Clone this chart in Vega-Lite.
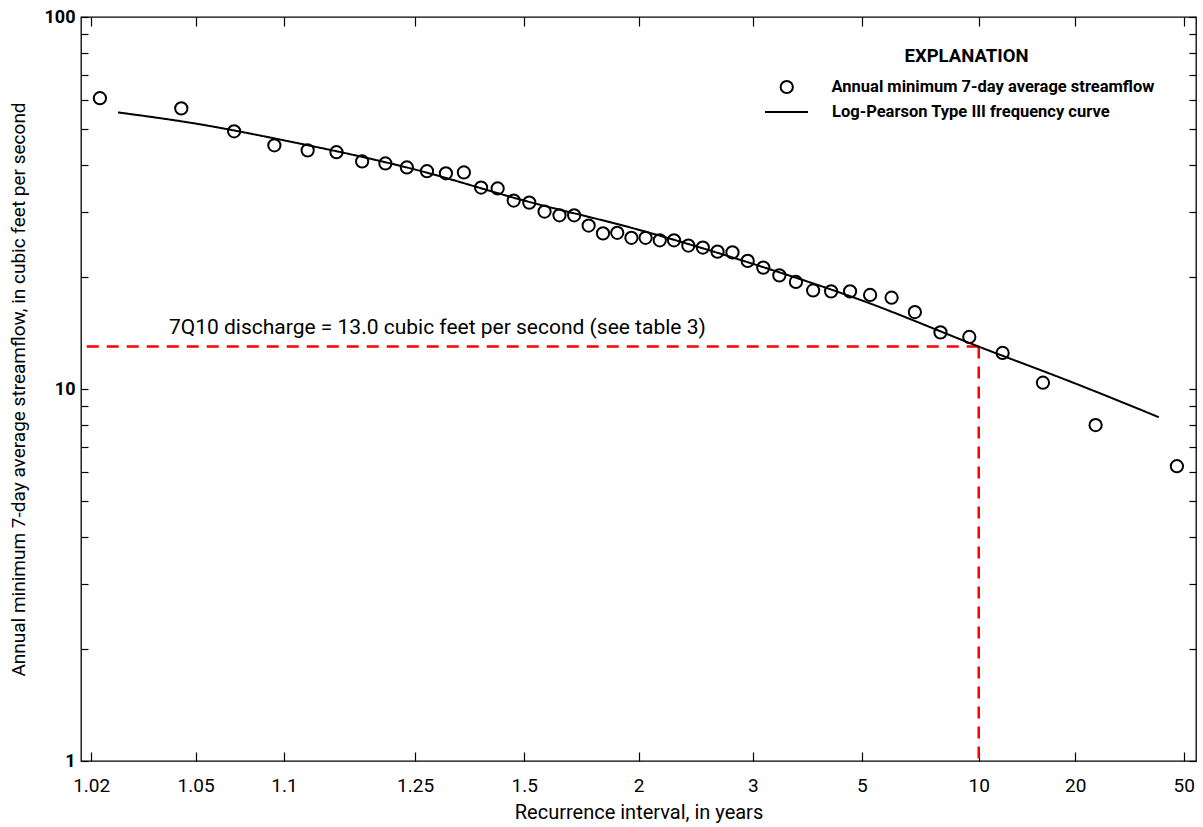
{
  "$schema": "https://vega.github.io/schema/vega-lite/v6.json",
  "width": 1115,
  "height": 744,
  "autosize": {"type": "none"},
  "padding": {"left": 81, "top": 17, "right": 7, "bottom": 66},
  "background": "white",
  "config": {
    "font": "Roboto",
    "view": {"stroke": "black", "strokeWidth": 1.3},
    "axis": {"labelColor": "black", "titleColor": "black", "tickColor": "black", "grid": false, "domain": false, "titleFontWeight": "normal", "tickWidth": 1.2}
  },
  "datasets": {
    "obs": [
      {"T": 1.0217, "Q": 60.5}, {"T": 1.0444, "Q": 56.8}, {"T": 1.0682, "Q": 49.3}, {"T": 1.0930, "Q": 45.2},
      {"T": 1.1190, "Q": 43.8}, {"T": 1.1463, "Q": 43.3}, {"T": 1.1750, "Q": 40.9}, {"T": 1.2051, "Q": 40.4},
      {"T": 1.2368, "Q": 39.4}, {"T": 1.2703, "Q": 38.5}, {"T": 1.3056, "Q": 38.0}, {"T": 1.3429, "Q": 38.2},
      {"T": 1.3824, "Q": 34.8}, {"T": 1.4242, "Q": 34.6}, {"T": 1.4688, "Q": 32.1}, {"T": 1.5161, "Q": 31.7},
      {"T": 1.5667, "Q": 30.0}, {"T": 1.6207, "Q": 29.3}, {"T": 1.6786, "Q": 29.3}, {"T": 1.7407, "Q": 27.5},
      {"T": 1.8077, "Q": 26.2}, {"T": 1.8800, "Q": 26.3}, {"T": 1.9583, "Q": 25.5}, {"T": 2.0435, "Q": 25.5},
      {"T": 2.1364, "Q": 25.1}, {"T": 2.2381, "Q": 25.1}, {"T": 2.3500, "Q": 24.3}, {"T": 2.4737, "Q": 24.0},
      {"T": 2.6111, "Q": 23.4}, {"T": 2.7647, "Q": 23.3}, {"T": 2.9375, "Q": 22.1}, {"T": 3.1333, "Q": 21.2},
      {"T": 3.3571, "Q": 20.2}, {"T": 3.6154, "Q": 19.4}, {"T": 3.9167, "Q": 18.4}, {"T": 4.2727, "Q": 18.3},
      {"T": 4.7000, "Q": 18.3}, {"T": 5.2222, "Q": 17.9}, {"T": 5.8750, "Q": 17.6}, {"T": 6.7143, "Q": 16.1},
      {"T": 7.8333, "Q": 14.2}, {"T": 9.4000, "Q": 13.8}, {"T": 11.750, "Q": 12.5}, {"T": 15.667, "Q": 10.4},
      {"T": 23.500, "Q": 8.0}, {"T": 47.000, "Q": 6.2}
    ],
    "lp3": [
      {"T": 1.0256, "Q": 55.4}, {"T": 1.05, "Q": 51.7}, {"T": 1.1, "Q": 46.6}, {"T": 1.25, "Q": 38.9},
      {"T": 1.5, "Q": 32.1}, {"T": 2, "Q": 26.8}, {"T": 3, "Q": 21.7}, {"T": 5, "Q": 17.3},
      {"T": 10, "Q": 13.0}, {"T": 20, "Q": 10.35}, {"T": 40, "Q": 8.4}
    ],
    "q710": [
      {"T": 10, "Q": 13.0, "note": "7Q10 discharge = 13.0 cubic feet per second (see table 3)", "noteT": 1.04}
    ]
  },
  "layer": [
    {
      "data": {"name": "q710"},
      "transform": [{"calculate": "quantileNormal(1 - 1/datum.T)", "as": "z"}],
      "mark": {"type": "rule", "color": "#ff0000", "strokeWidth": 2.5, "strokeDash": [12, 8]},
      "encoding": {
        "x": {"field": "z", "type": "quantitative", "scale": {"domain": [-2.1, 2.1], "nice": false, "zero": false}, "axis": null},
        "x2": {"value": 0},
        "y": {"field": "Q", "type": "quantitative", "scale": {"type": "log", "domain": [1, 100], "nice": false}, "axis": null}
      }
    },
    {
      "data": {"name": "q710"},
      "transform": [{"calculate": "quantileNormal(1 - 1/datum.T)", "as": "z"}],
      "mark": {"type": "rule", "color": "#ff0000", "strokeWidth": 2.5, "strokeDash": [12, 8]},
      "encoding": {
        "x": {"field": "z", "type": "quantitative", "scale": {"domain": [-2.1, 2.1], "nice": false, "zero": false}, "axis": null},
        "y": {"field": "Q", "type": "quantitative", "scale": {"type": "log", "domain": [1, 100], "nice": false}, "axis": null},
        "y2": {"datum": 1}
      }
    },
    {
      "data": {"name": "q710"},
      "transform": [{"calculate": "quantileNormal(1 - 1/datum.noteT)", "as": "zn"}],
      "mark": {"type": "text", "align": "left", "baseline": "alphabetic", "dy": -13, "fontSize": 21, "color": "black"},
      "encoding": {
        "x": {"field": "zn", "type": "quantitative", "scale": {"domain": [-2.1, 2.1], "nice": false, "zero": false}, "axis": null},
        "y": {"field": "Q", "type": "quantitative", "scale": {"type": "log", "domain": [1, 100], "nice": false}, "axis": null},
        "text": {"field": "note"}
      }
    },
    {
      "data": {"name": "lp3"},
      "transform": [{"calculate": "quantileNormal(1 - 1/datum.T)", "as": "z"}],
      "mark": {"type": "line", "color": "black", "strokeWidth": 2, "interpolate": "monotone"},
      "encoding": {
        "x": {"field": "z", "type": "quantitative", "scale": {"domain": [-2.1, 2.1], "nice": false, "zero": false},
          "axis": {"orient": "top", "values": [-2.0618, -1.6684, -1.3352, -0.8416, -0.4307, 0, 0.4307, 0.8416, 1.2816, 1.6449, 2.0537], "labels": false, "tickSize": -9, "title": null}},
        "y": {"field": "Q", "type": "quantitative", "scale": {"type": "log", "domain": [1, 100], "nice": false},
          "axis": {"orient": "right", "values": [1, 2, 3, 4, 5, 6, 7, 8, 9, 10, 20, 30, 40, 50, 60, 70, 80, 90, 100], "labels": false, "tickSize": -7, "title": null}},
        "strokeDash": {"datum": "Log-Pearson Type III frequency curve", "type": "nominal", "scale": {"range": [[1, 0]]},
          "legend": {"orient": "none", "legendX": 683, "legendY": 72.5, "title": null, "padding": 0, "labelLimit": 0,
            "labelFontSize": 16.5, "labelFontWeight": "bold", "labelColor": "black", "labelOffset": 23,
            "symbolType": "stroke", "symbolSize": 1849, "symbolStrokeWidth": 2, "symbolStrokeColor": "black"}}
      }
    },
    {
      "data": {"name": "obs"},
      "transform": [{"calculate": "quantileNormal(1 - 1/datum.T)", "as": "z"}],
      "mark": {"type": "point", "filled": false, "color": "black", "strokeWidth": 2, "size": 150, "opacity": 1},
      "encoding": {
        "x": {"field": "z", "type": "quantitative", "scale": {"domain": [-2.1, 2.1], "nice": false, "zero": false},
          "axis": {"orient": "bottom", "values": [-2.0618, -1.6684, -1.3352, -0.8416, -0.4307, 0, 0.4307, 0.8416, 1.2816, 1.6449, 2.0537],
            "labelExpr": "format(1/(1-cumulativeNormal(datum.value)), '.3~g')", "tickSize": -9, "labelPadding": 24, "labelFontSize": 19,
            "title": "Recurrence interval, in years", "titleFontSize": 20, "titlePadding": 7}},
        "y": {"field": "Q", "type": "quantitative", "scale": {"type": "log", "domain": [1, 100], "nice": false},
          "axis": {"orient": "left", "values": [1, 2, 3, 4, 5, 6, 7, 8, 9, 10, 20, 30, 40, 50, 60, 70, 80, 90, 100],
            "labelExpr": "(datum.value == 1 || datum.value == 10 || datum.value == 100) ? format(datum.value, 'd') : ''",
            "tickSize": -7, "labelPadding": 13, "labelFontSize": 18, "labelFontWeight": "bold",
            "title": "Annual minimum 7-day average streamflow, in cubic feet per second", "titleFontSize": 19, "titlePadding": 16}},
        "shape": {"datum": "Annual minimum 7-day average streamflow", "type": "nominal", "scale": {"range": ["circle"]},
          "legend": {"orient": "none", "legendX": 697.5, "legendY": 30.4, "title": "EXPLANATION", "titleFontSize": 18.5, "titleFontWeight": "bold",
            "titleColor": "black", "titleAnchor": "middle", "titlePadding": 12.85, "padding": 0, "labelLimit": 0,
            "labelFontSize": 16.5, "labelFontWeight": "bold", "labelColor": "black", "labelOffset": 36.5,
            "symbolSize": 150, "symbolStrokeWidth": 2, "symbolStrokeColor": "black", "symbolFillColor": "transparent"}}
      }
    }
  ]
}
